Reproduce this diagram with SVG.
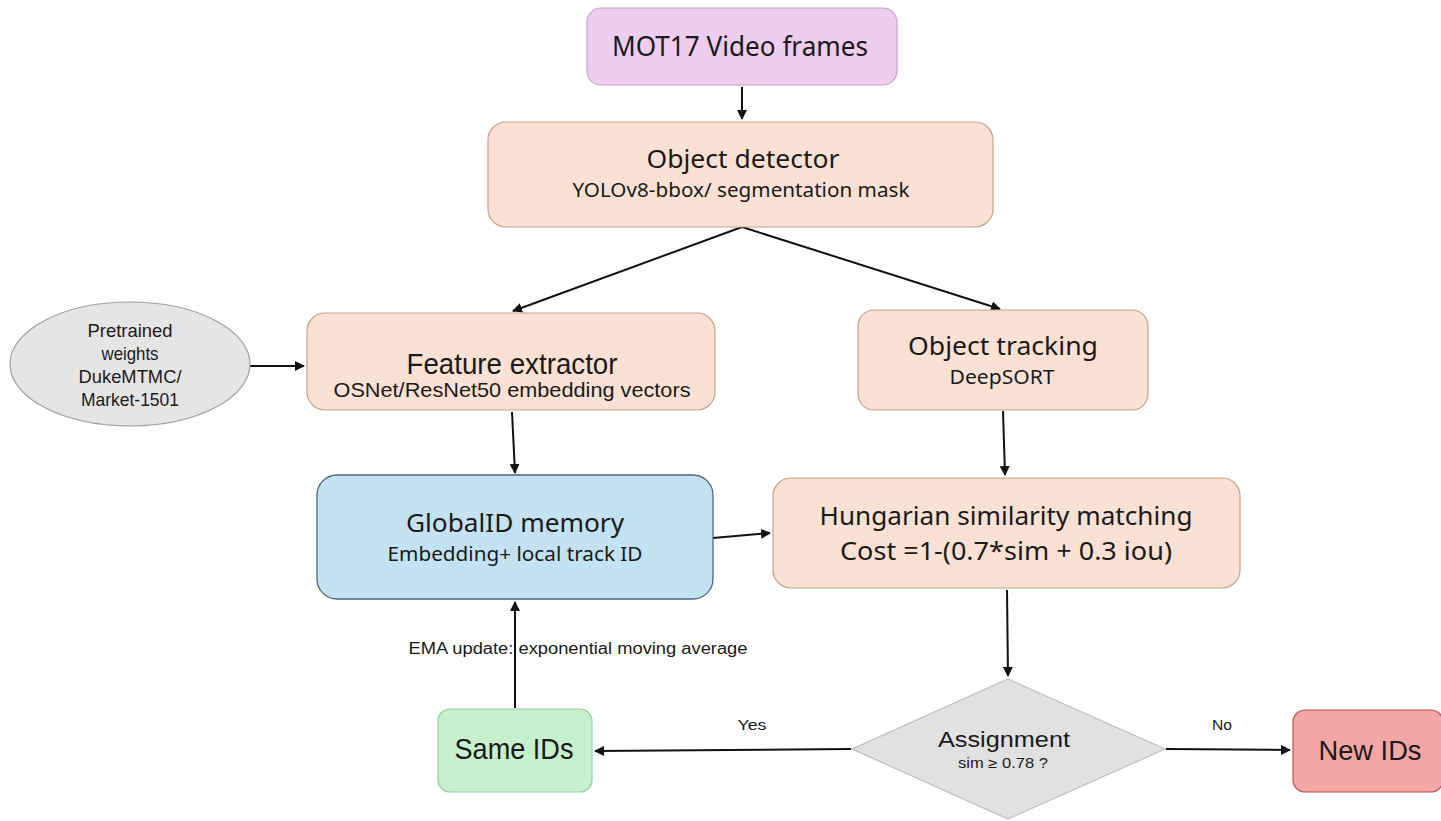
<svg xmlns="http://www.w3.org/2000/svg" width="1441" height="821" viewBox="0 0 1441 821">
  <defs>
    <marker id="arr" viewBox="0 0 10 10" refX="9" refY="5" markerWidth="5" markerHeight="5" orient="auto-start-reverse">
      <path d="M0,0 L10,5 L0,10 z" fill="#111"/>
    </marker>
    <style>
      text { font-family: "Noto Sans", "Liberation Sans", sans-serif; fill: #1a1a1a; text-anchor: middle; }
      .n { font-family: "Liberation Sans", "Noto Sans", sans-serif; }
      .peach { fill: #fbe1d3; stroke: #c9a08a; stroke-width: 1.2; }
      .edge { stroke: #111; stroke-width: 2; fill: none; marker-end: url(#arr); }
    </style>
  </defs>
  <rect width="1441" height="821" fill="#ffffff"/>

  <g id="connectors">
    <line class="edge" x1="742" y1="87" x2="742" y2="119"/>
    <line class="edge" x1="742" y1="227" x2="513" y2="311"/>
    <line class="edge" x1="742" y1="227" x2="1000" y2="309"/>
    <line class="edge" x1="250" y1="366" x2="304" y2="366"/>
    <line class="edge" x1="512" y1="412" x2="515" y2="473"/>
    <line class="edge" x1="1003" y1="411" x2="1005" y2="475"/>
    <line class="edge" x1="713" y1="538" x2="770" y2="533"/>
    <line class="edge" x1="1007" y1="590" x2="1008" y2="676"/>
    <line class="edge" x1="851" y1="749" x2="595" y2="751"/>
    <line class="edge" x1="1166" y1="749" x2="1290" y2="750"/>
    <line class="edge" x1="515" y1="708" x2="515" y2="602"/>
    <text class="n" x="752" y="730" font-size="15" textLength="29" lengthAdjust="spacingAndGlyphs">Yes</text>
    <text class="n" x="1222" y="730" font-size="15" textLength="20" lengthAdjust="spacingAndGlyphs">No</text>
    <text class="n" x="578" y="654" font-size="16" textLength="339" lengthAdjust="spacingAndGlyphs">EMA update: exponential moving average</text>
  </g>

  <g id="video">
    <rect x="587" y="8" width="310" height="77" rx="14" fill="#efcdef" stroke="#c9a2c9" stroke-width="1.2"/>
    <text x="740" y="56" font-size="28" textLength="256" lengthAdjust="spacingAndGlyphs">MOT17 Video frames</text>
  </g>

  <g id="detector">
    <rect class="peach" x="488" y="122" width="505" height="105" rx="18"/>
    <text x="743" y="168" font-size="25" textLength="193" lengthAdjust="spacingAndGlyphs">Object detector</text>
    <text x="741" y="197" font-size="19" textLength="337" lengthAdjust="spacingAndGlyphs">YOLOv8-bbox/ segmentation mask</text>
  </g>

  <g id="weights">
    <ellipse cx="130" cy="364" rx="120" ry="62" fill="#e5e5e5" stroke="#9f9f9f" stroke-width="1.2"/>
    <text class="n" x="130" y="337" font-size="19" textLength="85" lengthAdjust="spacingAndGlyphs">Pretrained</text>
    <text class="n" x="130" y="360" font-size="19" textLength="57" lengthAdjust="spacingAndGlyphs">weights</text>
    <text class="n" x="130" y="383" font-size="19" textLength="103" lengthAdjust="spacingAndGlyphs">DukeMTMC/</text>
    <text class="n" x="130" y="406" font-size="19" textLength="98" lengthAdjust="spacingAndGlyphs">Market-1501</text>
  </g>

  <g id="feature">
    <rect class="peach" x="307" y="313" width="408" height="97" rx="18"/>
    <text class="n" x="512" y="374" font-size="29" textLength="211" lengthAdjust="spacingAndGlyphs">Feature extractor</text>
    <text class="n" x="512" y="397" font-size="21" textLength="357" lengthAdjust="spacingAndGlyphs">OSNet/ResNet50 embedding vectors</text>
  </g>

  <g id="tracking">
    <rect class="peach" x="858" y="310" width="290" height="100" rx="16"/>
    <text x="1003" y="355" font-size="26" textLength="190" lengthAdjust="spacingAndGlyphs">Object tracking</text>
    <text x="1002" y="384" font-size="19" textLength="105" lengthAdjust="spacingAndGlyphs">DeepSORT</text>
  </g>

  <g id="memory">
    <rect x="317" y="475" width="396" height="124" rx="20" fill="#c3e2f3" stroke="#4c6677" stroke-width="1.3"/>
    <text x="515" y="532" font-size="25" textLength="218" lengthAdjust="spacingAndGlyphs">GlobalID memory</text>
    <text x="515" y="561" font-size="19" textLength="255" lengthAdjust="spacingAndGlyphs">Embedding+ local track ID</text>
  </g>

  <g id="hungarian">
    <rect class="peach" x="773" y="478" width="467" height="110" rx="18"/>
    <text x="1006" y="525" font-size="25" textLength="373" lengthAdjust="spacingAndGlyphs">Hungarian similarity matching</text>
    <text x="1006" y="560" font-size="25" textLength="332" lengthAdjust="spacingAndGlyphs">Cost =1-(0.7*sim + 0.3 iou)</text>
  </g>

  <g id="assignment">
    <polygon points="1008,679 1165,749 1008,819 852,749" fill="#e1e1e1" stroke="#bdbdbd" stroke-width="1.2"/>
    <text class="n" x="1004" y="747" font-size="22" textLength="132" lengthAdjust="spacingAndGlyphs">Assignment</text>
    <text class="n" x="1003" y="768" font-size="14" textLength="90" lengthAdjust="spacingAndGlyphs">sim ≥ 0.78 ?</text>
  </g>

  <g id="same">
    <rect x="438" y="709" width="154" height="83" rx="12" fill="#c6efcb" stroke="#8fd19b" stroke-width="1.2"/>
    <text class="n" x="514" y="759" font-size="29" textLength="119" lengthAdjust="spacingAndGlyphs">Same IDs</text>
  </g>

  <g id="new">
    <rect x="1293" y="710" width="150" height="82" rx="12" fill="#f4a6a5" stroke="#c0504d" stroke-width="1.2"/>
    <text class="n" x="1370" y="760" font-size="28" textLength="103" lengthAdjust="spacingAndGlyphs">New IDs</text>
  </g>
</svg>
